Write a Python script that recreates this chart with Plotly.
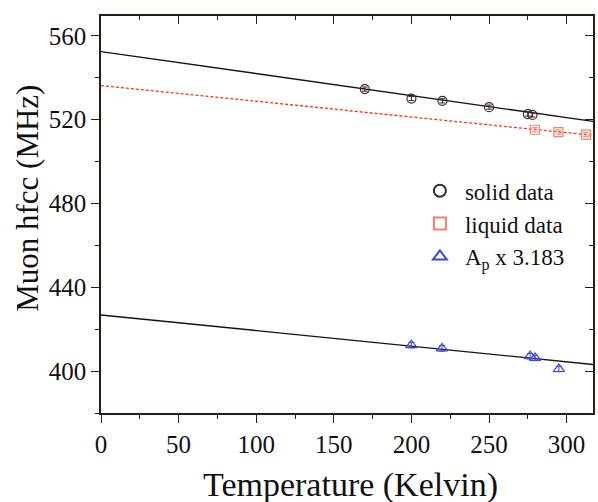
import plotly.graph_objects as go

# Measured hyperfine coupling constants (MHz) vs temperature (K)
solid_T = [170, 200, 220, 250, 275, 278]
solid_A = [534.6, 530.1, 529.0, 526.0, 522.7, 522.3]
solid_err = [1.0, 1.0, 1.0, 1.0, 1.0, 1.0]

liquid_T = [279.5, 294.7, 312.5]
liquid_A = [515.2, 514.1, 512.9]
liquid_err = [1.0, 1.0, 1.0]

ap_T = [200, 219.7, 276.5, 279.7, 295]
ap_A = [412.4, 410.8, 407.1, 406.3, 401.0]
ap_err = [1.3, 1.3, 1.3, 1.3, 1.3]

# Linear fits: (intercept at T=0, slope per K)
solid_fit = (552.5, -0.105)
liquid_fit = (536.3, -0.075)
ap_fit = (426.8, -0.0745)

x_range = [0, 317]
y_range = [380, 569.5]
fit_T = [x_range[0], x_range[1]]

FONT = "Liberation Serif"
AXIS_COL = "#2a1c14"

def fit_line(params):
    a, b = params
    return [a + b * t for t in fit_T]

fig = go.Figure()

fig.add_trace(go.Scatter(x=fit_T, y=fit_line(solid_fit), mode="lines",
                         line=dict(color="#1a1010", width=1.4), showlegend=False,
                         hoverinfo="skip"))
fig.add_trace(go.Scatter(x=fit_T, y=fit_line(liquid_fit), mode="lines",
                         line=dict(color="#ff3010", width=1.3, dash="3px,2px"),
                         showlegend=False, hoverinfo="skip"))
fig.add_trace(go.Scatter(x=fit_T, y=fit_line(ap_fit), mode="lines",
                         line=dict(color="#1a1010", width=1.4), showlegend=False,
                         hoverinfo="skip"))

fig.add_trace(go.Scatter(
    x=solid_T, y=solid_A, mode="markers", name="solid data",
    marker=dict(symbol="circle-open", size=9, color="#3a2a2a", line=dict(width=1.2)),
    error_y=dict(type="data", array=solid_err, color="#3a2a2a", thickness=1, width=3),
))
fig.add_trace(go.Scatter(
    x=liquid_T, y=liquid_A, mode="markers", name="liquid data",
    marker=dict(symbol="square-open", size=9, color="#f4806c", line=dict(width=1.2)),
    error_y=dict(type="data", array=liquid_err, color="#f4806c", thickness=1, width=3),
))
fig.add_trace(go.Scatter(
    x=ap_T, y=ap_A, mode="markers", name="A<sub>p</sub> x 3.183",
    marker=dict(symbol="triangle-up-open", size=10, color="#3a48e0", line=dict(width=1.2)),
    error_y=dict(type="data", array=ap_err, color="#3a48e0", thickness=1, width=3),
))

# invisible trace to anchor the mirrored top/right axes
fig.add_trace(go.Scatter(x=[None], y=[None], xaxis="x2", yaxis="y2", showlegend=False,
                         hoverinfo="skip"))

axis_common = dict(showline=True, linecolor=AXIS_COL, linewidth=1.6, showgrid=False,
                   zeroline=False, ticks="outside", ticklen=8, tickwidth=1.3,
                   tickcolor=AXIS_COL,
                   tickfont=dict(family=FONT, size=25, color="#111"))

fig.update_layout(
    width=598, height=502,
    margin=dict(l=101, r=5, t=16, b=89),
    paper_bgcolor="white", plot_bgcolor="white",
    xaxis=dict(range=x_range, tick0=0, dtick=50,
               minor=dict(dtick=25, ticks="outside", ticklen=4, tickcolor=AXIS_COL, tickwidth=1.2),
               **axis_common),
    yaxis=dict(range=y_range, tick0=400, dtick=40,
               minor=dict(dtick=20, ticks="outside", ticklen=4, tickcolor=AXIS_COL, tickwidth=1.2),
               **axis_common),
    xaxis2=dict(range=x_range, overlaying="x", side="top", showline=True, linecolor=AXIS_COL,
                linewidth=1.6, showgrid=False, zeroline=False, ticks="inside", ticklen=8,
                tickwidth=1.3, tickcolor=AXIS_COL, tick0=0, dtick=50, showticklabels=False,
                minor=dict(dtick=25, ticks="inside", ticklen=4, tickcolor=AXIS_COL, tickwidth=1.2)),
    yaxis2=dict(range=y_range, overlaying="y", side="right", showline=True, linecolor=AXIS_COL,
                linewidth=1.6, showgrid=False, zeroline=False, ticks="inside", ticklen=8,
                tickwidth=1.3, tickcolor=AXIS_COL, tick0=400, dtick=40, showticklabels=False,
                minor=dict(dtick=20, ticks="inside", ticklen=4, tickcolor=AXIS_COL, tickwidth=1.2)),
    legend=dict(x=0.638, y=0.614, xanchor="left", yanchor="top", bgcolor="rgba(0,0,0,0)",
                font=dict(family=FONT, size=23, color="#111"), tracegroupgap=0,
                itemwidth=40, itemsizing="constant"),
    showlegend=True,
)

fig.add_annotation(text="Muon hfcc (MHz)", xref="paper", yref="paper", x=-0.15, y=0.54,
                   textangle=-90, showarrow=False, xanchor="center", yanchor="middle",
                   font=dict(family=FONT, size=31, color="#111"))
fig.add_annotation(text="Temperature (Kelvin)", xref="paper", yref="paper", x=0.507, y=-0.182,
                   showarrow=False, xanchor="center", yanchor="middle",
                   font=dict(family=FONT, size=34, color="#111"))

fig.write_html("out.html")
